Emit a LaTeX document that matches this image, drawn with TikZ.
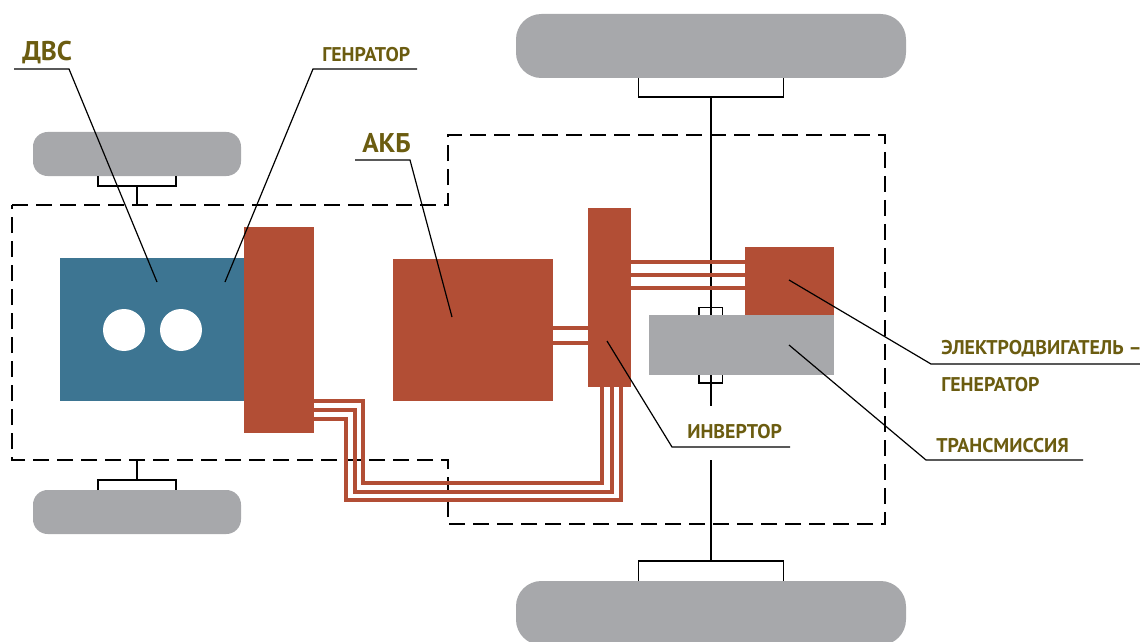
\documentclass[tikz,border=0pt]{standalone}
\usepackage{fontspec}
\setmainfont{PT Sans}
\usetikzlibrary{positioning}
\definecolor{rust}{HTML}{B24E35}
\definecolor{steel}{HTML}{3D7592}
\definecolor{tyre}{HTML}{A7A8AB}
\definecolor{olive}{HTML}{6B5C10}

\begin{document}
\begin{tikzpicture}[
      x=0.75pt, y=-0.75pt,
      unit/.style={rectangle, anchor=north west, inner sep=0pt, outer sep=0pt, fill=rust},
      tyrebig/.style={unit, fill=tyre, rounded corners=19pt, minimum width=292.5pt, minimum height=48pt},
      tyresmall/.style={unit, fill=tyre, rounded corners=11pt, minimum width=156pt, minimum height=33pt},
      hole/.style={circle, fill=white, inner sep=0pt, minimum size=31.5pt},
      caption/.style={anchor=base west, inner sep=0pt, font=\bfseries\fontsize{14.9}{18}\selectfont, text=olive},
      captionbig/.style={caption, font=\bfseries\fontsize{20.3}{24}\selectfont},
      axle/.style={line width=0.9pt},
      leader/.style={line width=0.9pt},
      frame/.style={line width=0.85pt, dash pattern=on 11.8pt off 6.2pt},
      wire/.style={draw=rust, line width=3pt}
    ]
    \useasboundingbox (0,0) rectangle (1140,642);

    % wheels
    \node[tyrebig] (wheelTop) at (516,14) {};
    \node[tyrebig] (wheelBottom) at (516,581) {};
    \node[tyresmall] (wheelLeftTop) at (33,132) {};
    \node[tyresmall] (wheelLeftBottom) at (33,490) {};

    % units
    \node[unit, fill=steel, minimum width=138pt, minimum height=107.25pt] (engine) at (60,258) {};
    \node[hole] (holeA) at (124,330) {};
    \node[hole] (holeB) at (181,330) {};
    \node[unit, minimum width=52.5pt, minimum height=154.5pt] (generator) at (244,227) {};
    \node[unit, minimum width=120pt, minimum height=106.5pt] (battery) at (393,259) {};
    \node[unit, minimum width=32.25pt, minimum height=134.25pt] (inverter) at (588,208) {};
    \node[unit, minimum width=66.75pt, minimum height=51pt] (motor) at (745,247) {};

    % axles
    \coordinate (frameTop) at (137,205);
    \coordinate (frameBottom) at (137,460);
    \coordinate (shaftEnd) at (711,406);
    \coordinate (shaftStart) at (711,460);
    \draw[axle] (98,176) |- (176,186) -- (176,176);
    \draw[axle] (137,186) -- (frameTop);
    \draw[axle] (98,490) |- (176,480) -- (176,490);
    \draw[axle] (137,480) -- (frameBottom);
    \draw[axle] (638.5,78) |- (783.5,97) -- (783.5,78);
    \draw[axle] (638.5,581) |- (783.5,561) -- (783.5,581);
    \draw[axle] (711,97) -- (711,315);
    \draw[axle] (711,375) -- (shaftEnd);
    \draw[axle] (shaftStart) -- (711,561);
    \draw[axle] (699,315) |- (722.5,307.5) -- (722.5,315);
    \draw[axle] (699,375) |- (722.5,383) -- (722.5,375);

    % frame
    \draw[frame] (12,205) -- (448,205) -- (448,135) -- (885,135) -- (885,524) -- (448,524) -- (448,460) -- (12,460) -- cycle;

    % wires
    \draw[wire] (631,262) -- (745,262);
    \draw[wire] (631,275) -- (745,275);
    \draw[wire] (631,288) -- (745,288);
    \draw[wire] (553,328) -- (588,328);
    \draw[wire] (553,343) -- (588,343);
    \draw[wire] (314,401) -- (363,401) -- (363,483) -- (602,483) -- (602,387);
    \draw[wire] (314,410) -- (355,410) -- (355,492) -- (612,492) -- (612,387);
    \draw[wire] (314,419) -- (346,419) -- (346,500) -- (621,500) -- (621,387);

    \node[unit, fill=tyre, minimum width=138.75pt, minimum height=45pt] (transmission) at (649,315) {};

    % labels
    \node[captionbig] (lblEngine) at (22,61) {ДВС};
    \node[caption] (lblGenerator) at (322,62) {ГЕНРАТОР};
    \node[captionbig] (lblBattery) at (362,152) {АКБ};
    \node[caption] (lblInverter) at (687,438) {ИНВЕРТОР};
    \node[caption] (lblMotorA) at (941,354) {ЭЛЕКТРОДВИГАТЕЛЬ –};
    \node[caption] (lblMotorB) at (941,391) {ГЕНЕРАТОР};
    \node[caption] (lblTrans) at (936,452) {ТРАНСМИССИЯ};

    % leaders
    \coordinate (ptEngine) at (157,282);
    \coordinate (ptGenerator) at (225,282);
    \coordinate (ptBattery) at (452,317);
    \coordinate (ptInverter) at (607,341);
    \coordinate (ptMotor) at (789,280);
    \coordinate (ptTrans) at (789,345);
    \draw[leader] (14,69) -- (69,69) -- (ptEngine);
    \draw[leader] (417,69) -- (313,69) -- (ptGenerator);
    \draw[leader] (355,160) -- (410,160) -- (ptBattery);
    \draw[leader] (790,447) -- (672,447) -- (ptInverter);
    \draw[leader] (1140,364) -- (931,364) -- (ptMotor);
    \draw[leader] (1083,460) -- (926,460) -- (ptTrans);
\end{tikzpicture}
\end{document}
